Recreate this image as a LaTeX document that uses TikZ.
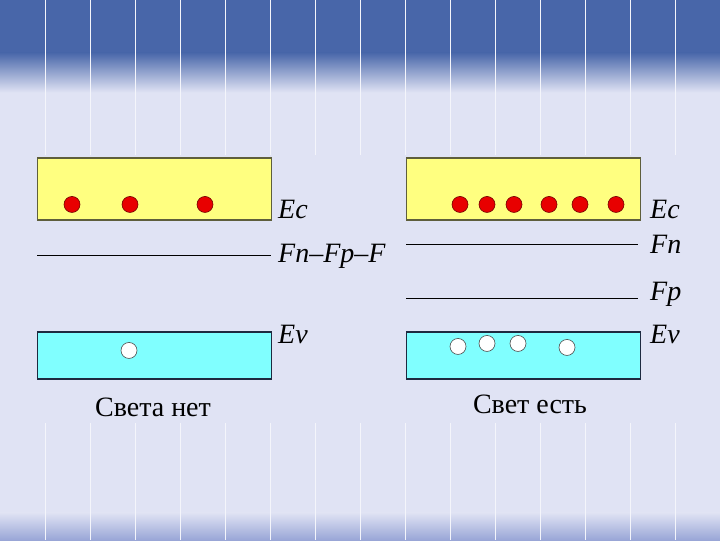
\documentclass[tikz,border=0pt]{standalone}
\usepackage{fontspec}
\setmainfont{Liberation Serif}
\usetikzlibrary{positioning}
\definecolor{slide}{HTML}{E0E3F4}
\definecolor{topband}{HTML}{4866A9}
\definecolor{botband}{HTML}{98A5D6}
\definecolor{stripe}{HTML}{F4F5FB}
\definecolor{cband}{HTML}{FFFF80}
\definecolor{vband}{HTML}{80FFFF}
\definecolor{edgec}{HTML}{5E5E3C}
\definecolor{edgev}{HTML}{1E2A40}
\definecolor{elec}{HTML}{E80000}
\tikzset{
  condband/.style={draw=edgec, fill=cband, line width=1.2pt, inner sep=0pt,
                   minimum width=234pt, minimum height=62pt, anchor=north west},
  valband/.style={draw=edgev, fill=vband, line width=1.2pt, inner sep=0pt,
                  minimum width=234pt, minimum height=47pt, anchor=north west},
  electron/.style={circle, draw=red!45!black, fill=elec, line width=0.6pt,
                   minimum size=16pt, inner sep=0pt},
  hole/.style={circle, draw=black!70, fill=white, line width=0.6pt,
               minimum size=16pt, inner sep=0pt},
  level/.style={font=\fontsize{28}{28}\selectfont\itshape, inner sep=0pt, anchor=base west},
  caption/.style={font=\fontsize{28}{28}\selectfont, inner sep=0pt, anchor=base},
  fermi/.style={line width=0.7pt, draw=black}
}
\begin{document}
\begin{tikzpicture}[x=1pt,y=-1pt]
  % background
  \fill[slide] (0,0) rectangle (720,540);
  \fill[topband] (0,0) rectangle (720,52);
  \shade[top color=topband, bottom color=slide] (0,52) rectangle (720,92);
  \shade[top color=slide, bottom color=botband] (0,512) rectangle (720,540);
  \foreach \i in {1,...,15} {
    \draw[stripe, line width=0.9pt] (45*\i,0) -- (45*\i,155);
    \draw[stripe, line width=0.9pt] (45*\i,423) -- (45*\i,540);
  }
  \useasboundingbox (0,0) rectangle (720,540);

  % no light
  \node[condband] (cbL) at (37,157) {};
  \node[valband] (vbL) at (37,331) {};
  \foreach \x/\n in {72/1,130/2,205/3}
    \node[electron] (eL\n) at (\x,204) {};
  \node[hole] (hL1) at (129,350) {};
  \coordinate (fL) at (37,255);
  \coordinate (fLe) at (271,255);
  \draw[fermi] (fL) -- (fLe);
  \node[level] (ecL) at (278,218) {Ec};
  \node[level] (fnL) at (278,262) {Fn{\upshape –}Fp{\upshape –}F};
  \node[level] (evL) at (278,343) {Ev};
  \node[caption] (capL) at (153,416) {Света нет};

  % light
  \node[condband] (cbR) at (406,157) {};
  \node[valband] (vbR) at (406,331) {};
  \foreach \x/\n in {460/1,487/2,514/3,549/4,580/5,616/6}
    \node[electron] (eR\n) at (\x,204) {};
  \foreach \x/\y/\n in {458/346/1,487/343/2,518/343/3,567/347/4}
    \node[hole] (hR\n) at (\x,\y) {};
  \coordinate (fnR) at (406,244);
  \coordinate (fnRe) at (638,244);
  \coordinate (fpR) at (406,298);
  \coordinate (fpRe) at (638,298);
  \draw[fermi] (fnR) -- (fnRe);
  \draw[fermi] (fpR) -- (fpRe);
  \node[level] (ecR) at (650,218) {Ec};
  \node[level] (fnRl) at (650,253) {Fn};
  \node[level] (fpRl) at (650,300) {Fp};
  \node[level] (evR) at (650,343) {Ev};
  \node[caption] (capR) at (530,413) {Свет есть};
\end{tikzpicture}
\end{document}
